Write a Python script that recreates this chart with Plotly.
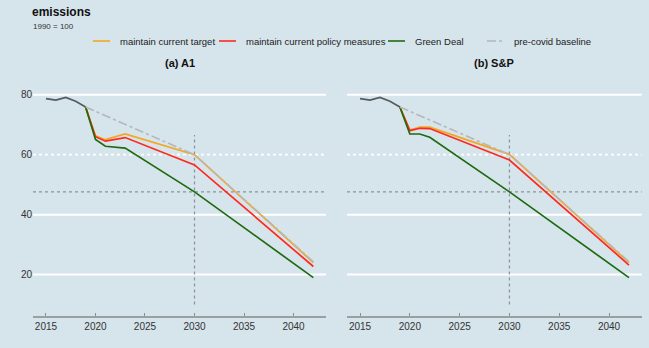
import plotly.graph_objects as go

W, H = 649, 348

# ---- data ----
hist_years = [2015, 2016, 2017, 2018, 2019]
hist_vals = [78.7, 78.2, 79.1, 77.8, 75.9]

a1_years = [2019, 2020, 2021, 2023, 2030, 2042]
a1_target = [75.9, 66.3, 65.0, 66.9, 60.0, 24.0]
a1_policy = [75.9, 66.0, 64.5, 65.7, 56.6, 22.7]
a1_green = [75.9, 65.1, 62.8, 62.2, 47.6, 19.0]

sp_years = [2019, 2020, 2021, 2022, 2030, 2042]
sp_target = [75.9, 68.2, 69.2, 69.2, 60.1, 24.0]
sp_policy = [75.9, 68.0, 68.8, 68.7, 58.2, 23.2]
sp_green = [75.9, 66.9, 66.9, 65.8, 47.6, 19.0]

base_years = [2019, 2030, 2042]
base_vals = [75.9, 60.0, 24.3]

green_deal_2030 = 47.6
ref_year = 2030

panel_titles = ["(a) A1", "(b) S&P"]
legend_names = ["maintain current target", "maintain current policy measures",
                "Green Deal", "pre-covid baseline"]
x_ticks = [2015, 2020, 2025, 2030, 2035, 2040]
y_ticks = [20, 40, 60, 80]

# ---- style ----
BG = "#d6e4eb"
C_TARGET = "#f5a623"
C_POLICY = "#ff2a1f"
C_GREEN = "#1f6b12"
C_BASE = "#b4b8bb"
C_HIST = "#555a5e"
FONT = "Liberation Sans, Arial, sans-serif"

def px_x(p):
    return p / W

def px_y(p):
    return 1 - p / H

fig = go.Figure()

panels = [
    ("x", "y", a1_years, a1_target, a1_policy, a1_green),
    ("x2", "y2", sp_years, sp_target, sp_policy, sp_green),
]
for xa, ya, yrs, tgt, pol, grn in panels:
    fig.add_trace(go.Scatter(x=yrs, y=tgt, mode="lines", line=dict(color=C_TARGET, width=1.7),
                             xaxis=xa, yaxis=ya, showlegend=False, name=legend_names[0]))
    fig.add_trace(go.Scatter(x=yrs, y=pol, mode="lines", line=dict(color=C_POLICY, width=1.7),
                             xaxis=xa, yaxis=ya, showlegend=False, name=legend_names[1]))
    fig.add_trace(go.Scatter(x=yrs, y=grn, mode="lines", line=dict(color=C_GREEN, width=1.7),
                             xaxis=xa, yaxis=ya, showlegend=False, name=legend_names[2]))
    fig.add_trace(go.Scatter(x=base_years, y=base_vals, mode="lines",
                             line=dict(color=C_BASE, width=1.6, dash="dashdot"),
                             xaxis=xa, yaxis=ya, showlegend=False, name=legend_names[3]))
    fig.add_trace(go.Scatter(x=hist_years, y=hist_vals, mode="lines", line=dict(color=C_HIST, width=1.6),
                             xaxis=xa, yaxis=ya, showlegend=False, name="history"))

xr = [2013.69, 2043.28]
yr = [6.3, 83.3]
ydom = [px_y(315.7), px_y(84.8)]
xdom1 = [px_x(33), px_x(326)]
xdom2 = [px_x(347), px_x(641.7)]

xcommon = dict(range=xr, tickvals=x_ticks, showgrid=False, zeroline=False,
               showline=True, linecolor="#9a9fa3", linewidth=2,
               ticks="inside", ticklen=3, tickcolor="#8a8f93", tickwidth=1,
               tickfont=dict(size=10, color="#333333", family=FONT))
ycommon = dict(range=yr, domain=ydom, tickvals=y_ticks, showgrid=False, zeroline=False,
               showline=False, tickfont=dict(size=10, color="#333333", family=FONT))

fig.update_layout(
    width=W, height=H, margin=dict(l=0, r=0, t=0, b=0, pad=0),
    paper_bgcolor=BG, plot_bgcolor=BG,
    xaxis=dict(domain=xdom1, anchor="y", **xcommon),
    xaxis2=dict(domain=xdom2, anchor="y2", **xcommon),
    yaxis=dict(anchor="x", **ycommon),
    yaxis2=dict(anchor="x2", showticklabels=False, **ycommon),
)

shapes = []
for xa, ya in [("x", "y"), ("x2", "y2")]:
    for v in y_ticks:
        shapes.append(dict(type="line", xref=f"{xa} domain", yref=ya, x0=0, x1=1, y0=v, y1=v,
                           line=dict(color="white", width=2 if v != 60 else 1.6,
                                     dash="solid" if v != 60 else "dot"), layer="below"))
    shapes.append(dict(type="line", xref=f"{xa} domain", yref=ya, x0=0, x1=1,
                       y0=green_deal_2030, y1=green_deal_2030,
                       line=dict(color="#8a939a", width=1.2, dash="dot"), layer="below"))
    shapes.append(dict(type="line", xref=xa, yref=ya, x0=ref_year, x1=ref_year, y0=10, y1=66.6,
                       line=dict(color="#8a939a", width=1.2, dash="dot"), layer="below"))

# manual legend
leg_y = px_y(41)
leg_items = [
    (93, 110, 118, C_TARGET, "solid"),
    (219, 236, 244, C_POLICY, "solid"),
    (388, 405, 413, C_GREEN, "solid"),
    (487, 503, 512, C_BASE, "dashdot"),
]
annotations = []
for (x0, x1, xt, col, dash), name in zip(leg_items, legend_names):
    shapes.append(dict(type="line", xref="paper", yref="paper", x0=px_x(x0), x1=px_x(x1),
                       y0=leg_y, y1=leg_y, line=dict(color=col, width=1.6, dash=dash)))
    annotations.append(dict(xref="paper", yref="paper", x=px_x(xt), y=leg_y, text=name,
                            showarrow=False, xanchor="left", yanchor="middle",
                            font=dict(size=9.5, color="#222222", family=FONT)))

annotations.append(dict(xref="paper", yref="paper", x=px_x(31), y=px_y(20), text="<b>emissions</b>",
                        showarrow=False, xanchor="left", yanchor="bottom", borderpad=0,
                        font=dict(size=12, color="#111111", family=FONT)))
annotations.append(dict(xref="paper", yref="paper", x=px_x(32), y=px_y(20.5), text="1990 = 100",
                        showarrow=False, xanchor="left", yanchor="top", borderpad=0,
                        font=dict(size=8, color="#333333", family=FONT)))
for cx, t in zip([179.5, 494], panel_titles):
    annotations.append(dict(xref="paper", yref="paper", x=px_x(cx), y=px_y(63), text=f"<b>{t}</b>",
                            showarrow=False, xanchor="center", yanchor="middle",
                            font=dict(size=11, color="#111111", family=FONT)))

fig.update_layout(shapes=shapes, annotations=annotations)
fig.write_html("out.html")
